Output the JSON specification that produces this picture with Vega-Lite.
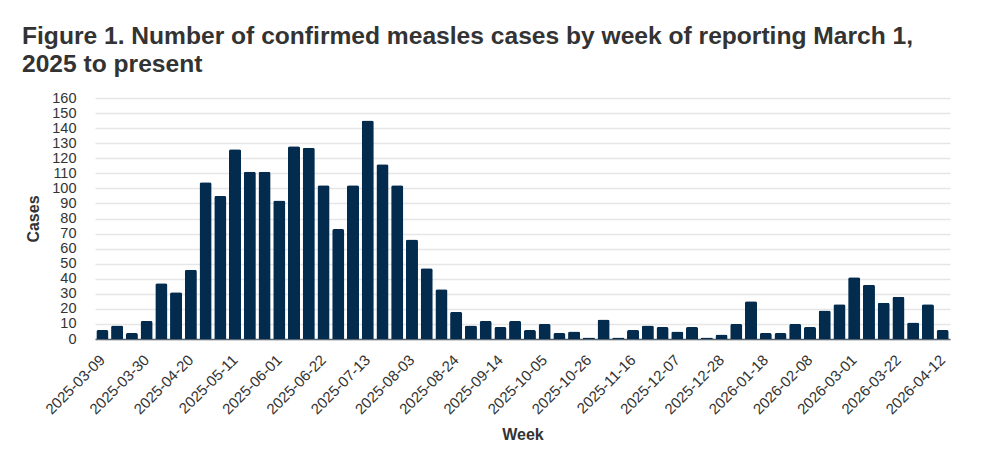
{
  "$schema": "https://vega.github.io/schema/vega-lite/v6.json",
  "width": 855,
  "height": 241,
  "autosize": {"type": "none"},
  "padding": {"left": 95, "top": 98, "right": 41, "bottom": 112},
  "background": "white",
  "title": {
    "text": ["Figure 1. Number of confirmed measles cases by week of reporting March 1,", "2025 to present"],
    "anchor": "start",
    "frame": "group",
    "dx": -73,
    "offset": 12,
    "font": "Liberation Sans",
    "fontSize": 24.6,
    "fontWeight": "bold",
    "color": "#333333",
    "lineHeight": 28
  },
  "config": {
    "view": {"stroke": null},
    "font": "Liberation Sans"
  },
  "data": {
    "values": [
      {"week": "2025-03-09", "cases": 6},
      {"week": "2025-03-16", "cases": 9},
      {"week": "2025-03-23", "cases": 4},
      {"week": "2025-03-30", "cases": 12},
      {"week": "2025-04-06", "cases": 37},
      {"week": "2025-04-13", "cases": 31},
      {"week": "2025-04-20", "cases": 46},
      {"week": "2025-04-27", "cases": 104},
      {"week": "2025-05-04", "cases": 95},
      {"week": "2025-05-11", "cases": 126},
      {"week": "2025-05-18", "cases": 111},
      {"week": "2025-05-25", "cases": 111},
      {"week": "2025-06-01", "cases": 92},
      {"week": "2025-06-08", "cases": 128},
      {"week": "2025-06-15", "cases": 127},
      {"week": "2025-06-22", "cases": 102},
      {"week": "2025-06-29", "cases": 73},
      {"week": "2025-07-06", "cases": 102},
      {"week": "2025-07-13", "cases": 145},
      {"week": "2025-07-20", "cases": 116},
      {"week": "2025-07-27", "cases": 102},
      {"week": "2025-08-03", "cases": 66},
      {"week": "2025-08-10", "cases": 47},
      {"week": "2025-08-17", "cases": 33},
      {"week": "2025-08-24", "cases": 18},
      {"week": "2025-08-31", "cases": 9},
      {"week": "2025-09-07", "cases": 12},
      {"week": "2025-09-14", "cases": 8},
      {"week": "2025-09-21", "cases": 12},
      {"week": "2025-09-28", "cases": 6},
      {"week": "2025-10-05", "cases": 10},
      {"week": "2025-10-12", "cases": 4},
      {"week": "2025-10-19", "cases": 5},
      {"week": "2025-10-26", "cases": 1},
      {"week": "2025-11-02", "cases": 13},
      {"week": "2025-11-09", "cases": 1},
      {"week": "2025-11-16", "cases": 6},
      {"week": "2025-11-23", "cases": 9},
      {"week": "2025-11-30", "cases": 8},
      {"week": "2025-12-07", "cases": 5},
      {"week": "2025-12-14", "cases": 8},
      {"week": "2025-12-21", "cases": 1},
      {"week": "2025-12-28", "cases": 3},
      {"week": "2026-01-04", "cases": 10},
      {"week": "2026-01-11", "cases": 25},
      {"week": "2026-01-18", "cases": 4},
      {"week": "2026-01-25", "cases": 4},
      {"week": "2026-02-01", "cases": 10},
      {"week": "2026-02-08", "cases": 8},
      {"week": "2026-02-15", "cases": 19},
      {"week": "2026-02-22", "cases": 23},
      {"week": "2026-03-01", "cases": 41},
      {"week": "2026-03-08", "cases": 36},
      {"week": "2026-03-15", "cases": 24},
      {"week": "2026-03-22", "cases": 28},
      {"week": "2026-03-29", "cases": 11},
      {"week": "2026-04-05", "cases": 23},
      {"week": "2026-04-12", "cases": 6}
    ]
  },
  "mark": {"type": "bar", "color": "#022b4e", "cornerRadiusTopLeft": 2, "cornerRadiusTopRight": 2},
  "encoding": {
    "x": {
      "field": "week",
      "type": "ordinal",
      "sort": null,
      "scale": {"paddingInner": 0.18, "paddingOuter": 0.09},
      "axis": {
        "title": "Week",
        "titleFont": "Liberation Sans",
        "titleFontSize": 16,
        "titleFontWeight": "bold",
        "titleColor": "#333333",
        "titlePadding": 10,
        "values": ["2025-03-09", "2025-03-30", "2025-04-20", "2025-05-11", "2025-06-01", "2025-06-22", "2025-07-13", "2025-08-03", "2025-08-24", "2025-09-14", "2025-10-05", "2025-10-26", "2025-11-16", "2025-12-07", "2025-12-28", "2026-01-18", "2026-02-08", "2026-03-01", "2026-03-22", "2026-04-12"],
        "labelAngle": -45,
        "labelAlign": "right",
        "labelBaseline": "middle",
        "labelFont": "Liberation Sans",
        "labelFontSize": 15,
        "labelColor": "#333333",
        "labelPadding": 18,
        "labelOverlap": false,
        "ticks": false,
        "domainColor": "#5a6570",
        "domainWidth": 1.5,
        "grid": false
      }
    },
    "y": {
      "field": "cases",
      "type": "quantitative",
      "scale": {"domain": [0, 160], "nice": false},
      "axis": {
        "title": "Cases",
        "titleFont": "Liberation Sans",
        "titleFontSize": 16,
        "titleFontWeight": "bold",
        "titleColor": "#333333",
        "titlePadding": 10,
        "values": [0, 10, 20, 30, 40, 50, 60, 70, 80, 90, 100, 110, 120, 130, 140, 150, 160],
        "labelFont": "Liberation Sans",
        "labelFontSize": 14.5,
        "labelColor": "#333333",
        "labelPadding": 19,
        "labelOverlap": false,
        "labelBound": false,
        "ticks": false,
        "domain": false,
        "grid": true,
        "gridColor": "#e6e6e6",
        "gridWidth": 1.5
      }
    }
  }
}
